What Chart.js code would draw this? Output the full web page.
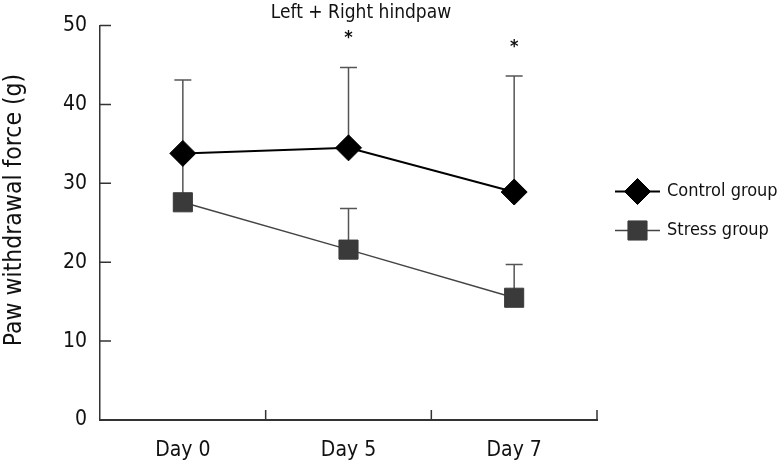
<!DOCTYPE html>
<html>
<head>
<meta charset="utf-8">
<script src="https://cdn.jsdelivr.net/npm/chart.js@4/dist/chart.umd.min.js"></script>
<style>
    html, body { margin: 0; padding: 0; background: #fff; }
    #wrap { width: 783px; height: 464px; }
</style>
</head>
<body>
<div id="wrap"><canvas id="chart" width="783" height="464"></canvas></div>
<script>
// Data
const days = ['Day 0', 'Day 5', 'Day 7'];
const controlMean = [33.8, 34.5, 28.9];
const controlErr = [9.3, 10.2, 14.7];   // upper error only
const stressMean = [27.6, 21.6, 15.5];
const stressErr = [6.0, 5.2, 4.2];
const marks = ['', '*', '*'];           // significance over control bars
const yTicks = [0, 10, 20, 30, 40, 50];
const legendOrder = ['Control group', 'Stress group'];
const chartTitle = 'Left + Right hindpaw';
const yTitle = 'Paw withdrawal force (g)';

const FONT = "'Liberation Sans Narrow', 'Arial Narrow', 'DejaVu Sans Condensed', sans-serif";

// error bars, drawn under the markers
const errorBars = {
    id: 'errorBars',
    beforeDatasetsDraw(chart) {
        const { ctx, scales: { x, y } } = chart;
        ctx.save();
        ctx.strokeStyle = '#555';
        ctx.lineWidth = 1.5;
        chart.data.datasets.forEach(ds => {
            ds.data.forEach((v, i) => {
                const px = x.getPixelForValue(i);
                const top = y.getPixelForValue(v + ds.errUp[i]);
                ctx.beginPath();
                ctx.moveTo(px, y.getPixelForValue(v));
                ctx.lineTo(px, top);
                ctx.moveTo(px - 8.5, top);
                ctx.lineTo(px + 8.5, top);
                ctx.stroke();
            });
        });
        ctx.restore();
    }
};

// inward ticks, title, axis title, asterisks, legend
const decorations = {
    id: 'decorations',
    afterDraw(chart) {
        const { ctx, chartArea: a, scales: { x, y } } = chart;
        ctx.save();
        ctx.strokeStyle = '#333';
        ctx.lineWidth = 1.5;
        ctx.beginPath();
        yTicks.forEach(t => {
            const py = y.getPixelForValue(t);
            ctx.moveTo(a.left, py);
            ctx.lineTo(a.left + 11, py);
        });
        for (let i = 0; i < days.length; i++) {
            const px = i < days.length - 1
                ? (x.getPixelForValue(i) + x.getPixelForValue(i + 1)) / 2
                : a.right;
            ctx.moveTo(px, a.bottom);
            ctx.lineTo(px, a.bottom - 10);
        }
        ctx.stroke();

        ctx.fillStyle = '#111';
        ctx.textAlign = 'center';
        ctx.textBaseline = 'middle';
        ctx.font = '19px ' + FONT;
        ctx.fillText(chartTitle, 361, 13);

        ctx.font = 'bold 18px ' + FONT;
        marks.forEach((m, i) => {
            if (!m) return;
            const top = y.getPixelForValue(controlMean[i] + controlErr[i]);
            ctx.fillText(m, x.getPixelForValue(i), top - 29);
        });

        ctx.save();
        ctx.translate(15, 210);
        ctx.rotate(-Math.PI / 2);
        ctx.font = '24.5px ' + FONT;
        ctx.fillText(yTitle, 0, 0);
        ctx.restore();

        // legend
        const rows = [191.5, 230.5];
        ctx.textAlign = 'left';
        ctx.font = '18px ' + FONT;
        legendOrder.forEach((name, i) => {
            const ds = chart.data.datasets.find(d => d.label === name);
            const ly = rows[i];
            ctx.strokeStyle = ds.borderColor;
            ctx.lineWidth = ds.borderWidth;
            ctx.beginPath();
            ctx.moveTo(615, ly);
            ctx.lineTo(660, ly);
            ctx.stroke();
            ctx.fillStyle = ds.pointBackgroundColor;
            ctx.strokeStyle = ds.pointBorderColor;
            ctx.lineWidth = 1;
            Chart.helpers.drawPoint(ctx, {
                pointStyle: ds.pointStyle, radius: ds.pointRadius, rotation: 0, borderWidth: 1
            }, 637.5, ly);
            ctx.fillStyle = '#111';
            ctx.fillText(ds.label, 667, ly);
        });
        ctx.restore();
    }
};

new Chart(document.getElementById('chart'), {
    type: 'line',
    data: {
        labels: days,
        datasets: [
            {
                label: 'Stress group',
                data: stressMean,
                errUp: stressErr,
                borderColor: '#444',
                borderWidth: 1.5,
                pointStyle: 'rect',
                pointRadius: 13.5,
                pointBackgroundColor: '#3a3a3a',
                pointBorderColor: '#3a3a3a',
                pointBorderWidth: 1,
                order: 2
            },
            {
                label: 'Control group',
                data: controlMean,
                errUp: controlErr,
                borderColor: '#000',
                borderWidth: 2,
                pointStyle: 'rectRot',
                pointRadius: 13,
                pointBackgroundColor: '#000',
                pointBorderColor: '#000',
                pointBorderWidth: 1,
                order: 1
            }
        ]
    },
    options: {
        responsive: false,
        animation: false,
        layout: { padding: { left: 0, right: 186, top: 18, bottom: 0 } },
        plugins: {
            legend: { display: false },
            tooltip: { enabled: false }
        },
        scales: {
            x: {
                offset: true,
                grid: { display: false, drawTicks: false },
                border: { color: '#333', width: 2 },
                ticks: { color: '#111', font: { family: FONT, size: 21 }, padding: 18 },
                afterFit(scale) { scale.height = 44; }
            },
            y: {
                min: 0,
                max: 50,
                afterBuildTicks(scale) { scale.ticks = yTicks.map(v => ({ value: v })); },
                grid: { display: false, drawTicks: false },
                border: { color: '#333', width: 1.5 },
                ticks: { color: '#111', font: { family: FONT, size: 21 }, padding: 13 },
                afterFit(scale) { scale.width = 100; }
            }
        }
    },
    plugins: [errorBars, decorations]
});
</script>
</body>
</html>
